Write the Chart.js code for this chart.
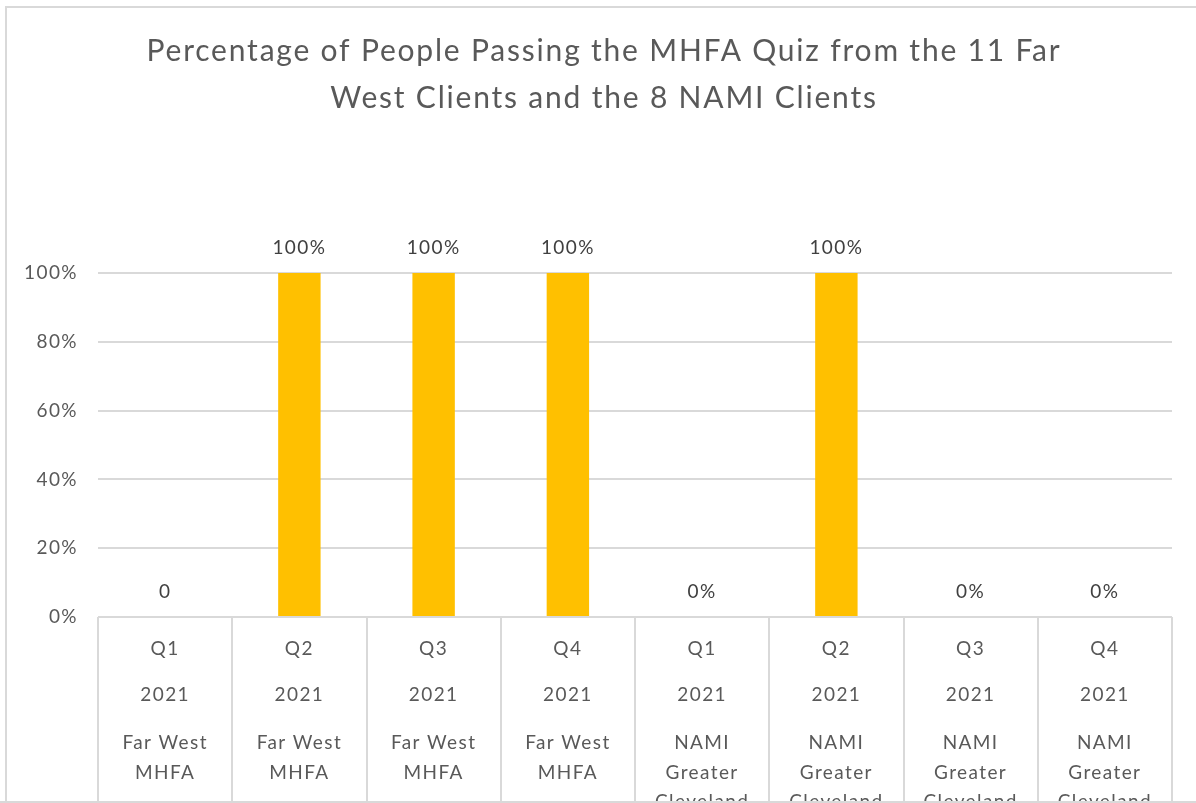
<!DOCTYPE html>
<html>
<head>
<meta charset="utf-8">
<script src="https://cdn.jsdelivr.net/npm/chart.js@4.4.0/dist/chart.umd.min.js"></script>
<style>
  html, body { margin: 0; padding: 0; background: #fff; }
  #wrap { position: absolute; left: 0; top: 0; width: 1196px; height: 803px; }
</style>
</head>
<body>
<div id="wrap"><canvas id="c" width="1196" height="803"></canvas></div>
<script>
const quarters = ["Q1", "Q2", "Q3", "Q4", "Q1", "Q2", "Q3", "Q4"];
const years = ["2021", "2021", "2021", "2021", "2021", "2021", "2021", "2021"];
const groups = [
  ["Far West", "MHFA"], ["Far West", "MHFA"], ["Far West", "MHFA"], ["Far West", "MHFA"],
  ["NAMI", "Greater", "Cleveland"], ["NAMI", "Greater", "Cleveland"],
  ["NAMI", "Greater", "Cleveland"], ["NAMI", "Greater", "Cleveland"]
];
const passRate = [0, 1, 1, 1, 0, 1, 0, 0];
const valueLabels = ["0", "100%", "100%", "100%", "0%", "100%", "0%", "0%"];
const yTicks = [0, 0.2, 0.4, 0.6, 0.8, 1.0];
const titleLines = ["Percentage of People Passing the MHFA Quiz from the 11 Far", "West Clients and the 8 NAMI Clients"];

const FONT = "Lato, 'Open Sans', sans-serif";
const TXT = "#595959";
const GRID = "#d9d9d9";

const catLabelPlugin = {
  id: "catLabels",
  beforeDraw(chart) {
    const ctx = chart.ctx;
    ctx.letterSpacing = "1.4px";
    ctx.save();
    ctx.strokeStyle = GRID;
    ctx.lineWidth = 2;
    ctx.beginPath();
    ctx.moveTo(6, 803); ctx.lineTo(6, 7); ctx.lineTo(1196, 7);
    ctx.moveTo(0, 802); ctx.lineTo(1196, 802);
    ctx.stroke();
    // title
    ctx.fillStyle = TXT;
    ctx.font = "30px " + FONT;
    ctx.letterSpacing = "1.8px";
    ctx.textAlign = "center";
    ctx.textBaseline = "middle";
    titleLines.forEach((t, k) => ctx.fillText(t, 604, 51 + k * 47));
    ctx.restore();
  },
  afterDraw(chart) {
    const ctx = chart.ctx;
    const xs = chart.scales.x;
    ctx.save();
    ctx.beginPath();
    ctx.rect(0, 0, 1196, 801);
    ctx.clip();
    ctx.fillStyle = TXT;
    ctx.font = "19px " + FONT;
    ctx.letterSpacing = "1.4px";
    ctx.textAlign = "center";
    ctx.textBaseline = "middle";
    quarters.forEach((q, i) => {
      const x = xs.getPixelForValue(i);
      ctx.fillText(q, x, 649);
      ctx.fillText(years[i], x, 695);
      groups[i].forEach((g, k) => ctx.fillText(g, x, 743 + k * 29.5));
    });
    // value labels
    const meta = chart.getDatasetMeta(0);
    ctx.fillStyle = "#404040";
    meta.data.forEach((bar, i) => {
      ctx.fillText(valueLabels[i], bar.x, bar.y - 25);
    });
    ctx.restore();
  }
};

new Chart(document.getElementById("c"), {
  type: "bar",
  data: {
    labels: quarters,
    datasets: [{
      data: passRate,
      backgroundColor: "#FFC000",
      barPercentage: 1,
      categoryPercentage: 0.316
    }]
  },
  options: {
    responsive: false,
    animation: false,
    layout: { padding: { left: 0, right: 24, top: 273, bottom: 0 } },
    plugins: {
      legend: { display: false },
      tooltip: { enabled: false },
      title: { display: false }
    },
    scales: {
      x: {
        offset: true,
        grid: { display: true, offset: true, drawOnChartArea: false, drawTicks: true, tickLength: 186, color: GRID, lineWidth: 2 },
        border: { display: false },
        ticks: { display: false },
        afterFit(s) { s.height = 186; }
      },
      y: {
        min: 0, max: 1,
        afterBuildTicks(s) { s.ticks = yTicks.map(v => ({ value: v })); },
        grid: { color: GRID, lineWidth: 2, drawTicks: false },
        border: { display: false },
        ticks: {
          color: TXT,
          font: { family: FONT, size: 19 },
          padding: 20,
          callback: v => Math.round(v * 100) + "%"
        },
        afterFit(s) { s.width = 98; }
      }
    }
  },
  plugins: [catLabelPlugin]
});
</script>
</body>
</html>
